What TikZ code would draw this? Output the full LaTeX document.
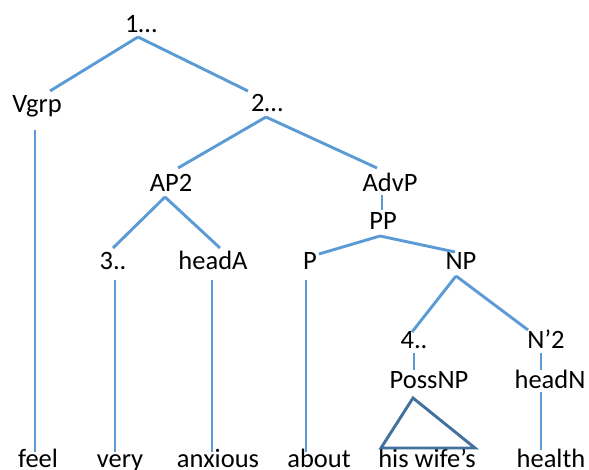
\documentclass[tikz,border=0pt]{standalone}
\usepackage{fontspec}
\setmainfont{Carlito}
\definecolor{edgeblue}{HTML}{5B9BD5}
\definecolor{triblue}{HTML}{41719C}
\tikzset{
  lbl/.style={anchor=base, inner sep=0pt, font=\fontsize{26.5bp}{30bp}\selectfont, text=black},
  edge/.style={draw=edgeblue, line width=2.9bp},
  tri/.style={draw=triblue, line width=2.9bp, line join=miter},
}
\begin{document}
\begin{tikzpicture}[x=1bp, y=-1bp]
\useasboundingbox[fill=white] (0,0) rectangle (589,470);
% nodes
\node[lbl] (one)    at (141,33)  {1…};
\node[lbl] (vgrp)   at (37,113)  {Vgrp};
\node[lbl] (two)    at (267,112) {2…};
\node[lbl] (ap2)    at (171,192) {AP2};
\node[lbl] (advp)   at (390,192) {AdvP};
\node[lbl] (pp)     at (383,230) {PP};
\node[lbl] (three)  at (113,270) {3..};
\node[lbl] (heada)  at (213,270) {headA};
\node[lbl] (p)      at (310,270) {P};
\node[lbl] (np)     at (461,270) {NP};
\node[lbl] (four)   at (414,348) {4..};
\node[lbl] (n2)     at (546,348) {N’2};
\node[lbl] (possnp) at (429,388) {PossNP};
\node[lbl] (headn)  at (550,388) {headN};
\node[lbl] (feel)    at (38,467)  {feel};
\node[lbl] (very)    at (120,467) {very};
\node[lbl] (anxious) at (218,467) {anxious};
\node[lbl] (about)   at (319,467) {about};
\node[lbl] (hiswife) at (427,467) {his wife’s};
\node[lbl] (health)  at (551,467) {health};
% edges
\draw[edge] ([shift={(-3,4)}]one.base) -- ([shift={(13,-22)}]vgrp.base);
\draw[edge] ([shift={(-3,4)}]one.base) -- ([shift={(-19,-21)}]two.base);
\draw[edge] ([shift={(-2,17)}]vgrp.base) -- ([shift={(-3,-15)}]feel.base);
\draw[edge] ([shift={(-1,5)}]two.base) -- ([shift={(7,-24)}]ap2.base);
\draw[edge] ([shift={(-1,5)}]two.base) -- ([shift={(-13,-24)}]advp.base);
\draw[edge] ([shift={(-6,5)}]ap2.base) -- ([shift={(0,-22)}]three.base);
\draw[edge] ([shift={(-6,5)}]ap2.base) -- ([shift={(7,-22)}]heada.base);
\draw[edge] ([shift={(2,10)}]three.base) -- ([shift={(-5,-15)}]very.base);
\draw[edge] ([shift={(-1,10)}]heada.base) -- ([shift={(-6,-15)}]anxious.base);
\draw[edge] ([shift={(-8,3)}]advp.base) -- ([shift={(-1,-20)}]pp.base);
\draw[edge] ([shift={(-3,6)}]pp.base) -- ([shift={(9,-16)}]p.base);
\draw[edge] ([shift={(-3,6)}]pp.base) -- ([shift={(-6,-18)}]np.base);
\draw[edge] ([shift={(-4,10)}]p.base) -- ([shift={(-13,-15)}]about.base);
\draw[edge] ([shift={(-5,6)}]np.base) -- ([shift={(-2,-16)}]four.base);
\draw[edge] ([shift={(-5,6)}]np.base) -- ([shift={(-18,-18)}]n2.base);
\draw[edge] ([shift={(0,5)}]four.base) -- ([shift={(-15,-18)}]possnp.base);
\draw[edge] ([shift={(-5,5)}]n2.base) -- ([shift={(-9,-18)}]headn.base);
\draw[edge] ([shift={(-9,4)}]headn.base) -- ([shift={(-10,-17)}]health.base);
% triangle
\draw[tri] ([shift={(-16,10)}]possnp.base) -- ([shift={(-46,-19)}]hiswife.base) -- ([shift={(48,-19)}]hiswife.base) -- cycle;
\end{tikzpicture}
\end{document}
